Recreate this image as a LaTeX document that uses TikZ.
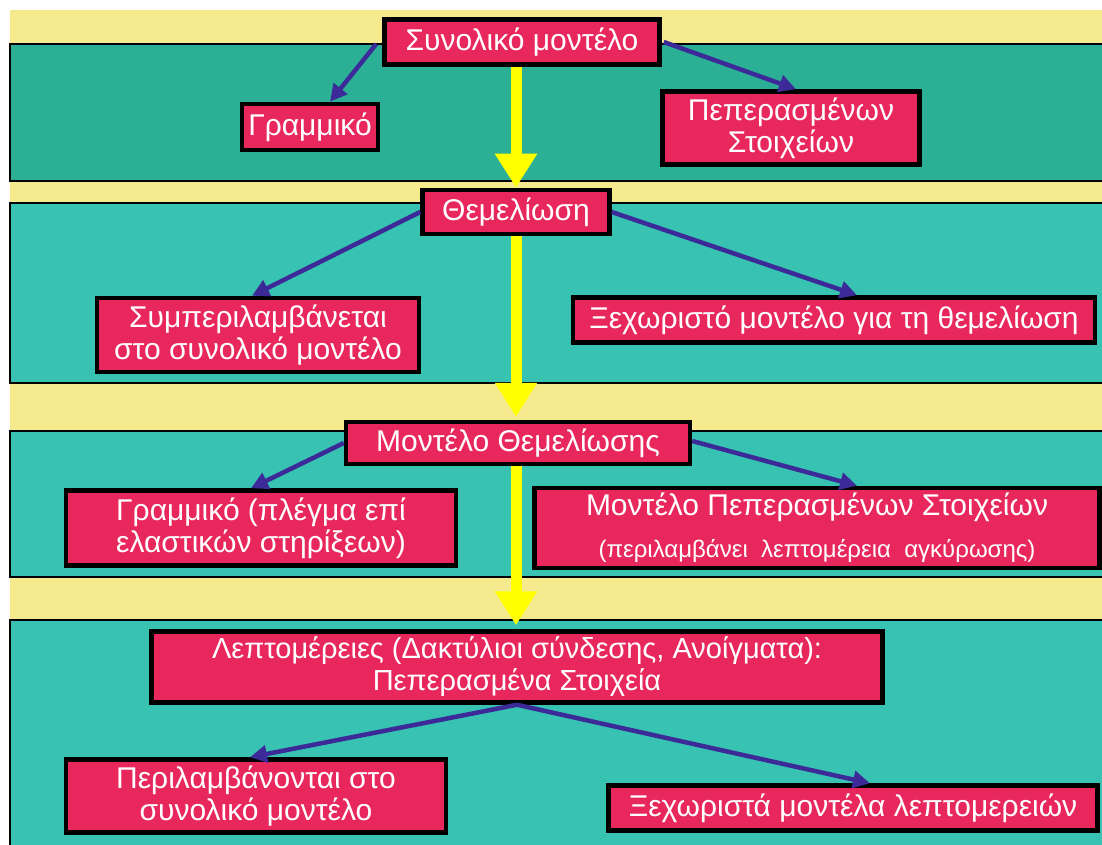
\documentclass[tikz,border=0pt]{standalone}
\usepackage{fontspec}
\setmainfont{Liberation Sans}
\usetikzlibrary{arrows.meta,calc}
\definecolor{bgyellow}{HTML}{F5EA8E}
\definecolor{bandteal}{HTML}{38C2B2}
\definecolor{bandtealdark}{HTML}{2CB095}
\definecolor{boxred}{HTML}{E8285C}
\definecolor{arrblue}{HTML}{3B2A98}
\definecolor{arryellow}{HTML}{FFFF00}
\tikzset{
  box/.style={draw=black, line width=4.5pt, fill=boxred, text=white,
    font=\fontsize{30}{32}\selectfont, align=center, inner sep=0pt},
  bandline/.style={draw=black, line width=1.5pt},
  bluearrow/.style={draw=arrblue, line width=4.5pt, -{Triangle[length=17pt,width=17pt]}},
  flowarrow/.style={draw=arryellow, line width=11pt, -{Triangle[length=34pt,width=40pt]}},
}
\begin{document}
\begin{tikzpicture}[x=1pt,y=-1pt]
\useasboundingbox (0,0) rectangle (1102,845);
\fill[white] (0,0) rectangle (1102,845);
\fill[bgyellow] (10,10) rectangle (1102,845);
% bands
\fill[bandtealdark] (10,44) rectangle (1102,181);
\draw[bandline] (1102,44) -- (10,44) -- (10,181) -- (1102,181);
\fill[bandteal] (10,203) rectangle (1102,383);
\draw[bandline] (1102,203) -- (10,203) -- (10,383) -- (1102,383);
\fill[bandteal] (10,431) rectangle (1102,577);
\draw[bandline] (1102,431) -- (10,431) -- (10,577) -- (1102,577);
\fill[bandteal] (10,620) rectangle (1102,845);
\draw[bandline] (1102,620) -- (10,620) -- (10,845);
% nodes
\node[box, minimum width=275pt, minimum height=45pt] (n1) at (522,42) {Συνολικό μοντέλο};
\node[box, minimum width=136pt, minimum height=46pt] (n2) at (310,127) {Γραμμικό};
\node[box, minimum width=257pt, minimum height=73pt] (n3) at (791,128) {Πεπερασμένων\\Στοιχείων};
\node[box, minimum width=187pt, minimum height=44pt] (n4) at (516,212) {Θεμελίωση};
\node[box, minimum width=322pt, minimum height=74pt] (n5) at (258,335) {Συμπεριλαμβάνεται\\στο συνολικό μοντέλο};
\node[box, minimum width=522pt, minimum height=45pt] (n6) at (834,320) {Ξεχωριστό μοντέλο για τη θεμελίωση};
\node[box, minimum width=344pt, minimum height=42pt] (n7) at (518,443) {Μοντέλο Θεμελίωσης};
\node[box, minimum width=390pt, minimum height=75pt] (n8) at (261,528) {Γραμμικό (πλέγμα επί\\ελαστικών στηρίξεων)};
\node[box, minimum width=565pt, minimum height=80pt] (n9) at (817,528) {Μοντέλο Πεπερασμένων Στοιχείων\\[10pt]{\fontsize{24}{26}\selectfont (περιλαμβάνει \ λεπτομέρεια \ αγκύρωσης)}};
\node[box, minimum width=731pt, minimum height=71pt, font=\fontsize{29}{32}\selectfont] (n10) at (517,667) {Λεπτομέρειες (Δακτύλιοι σύνδεσης, Ανοίγματα):\\Πεπερασμένα Στοιχεία};
\node[box, minimum width=380pt, minimum height=73pt] (n11) at (256,796) {Περιλαμβάνονται στο\\συνολικό μοντέλο};
\node[box, minimum width=489pt, minimum height=45pt] (n12) at (853,808) {Ξεχωριστά μοντέλα λεπτομερειών};
% yellow flow arrows
\draw[flowarrow] (n1.south -| n4.north) -- (n4.north);
\draw[flowarrow] (n4.south) -- ($(n7.north -| n4.south)+(0,-3)$);
\draw[flowarrow] (n7.south -| n4.south) -- ($(n10.north -| n4.south)+(0,-4)$);
% blue arrows
\draw[bluearrow] ($(n1.west)+(-6,2)$) -- ($(n2.north)+(20,0)$);
\draw[bluearrow] ($(n1.east)+(2,0)$) -- ($(n3.north)+(5,0)$);
\draw[bluearrow] (n4.west) -- ($(n5.north)+(-6,0)$);
\draw[bluearrow] (n4.east) -- ($(n6.north)+(23,0)$);
\draw[bluearrow] (n7.west) -- ($(n8.north)+(-10,0)$);
\draw[bluearrow] ($(n7.east)+(0,-2)$) -- ($(n9.north)+(40,0)$);
\draw[bluearrow] (n10.south) -- ($(n11.north)+(-6,0)$);
\draw[bluearrow] (n10.south) -- ($(n12.north)+(17,0)$);
\end{tikzpicture}
\end{document}
